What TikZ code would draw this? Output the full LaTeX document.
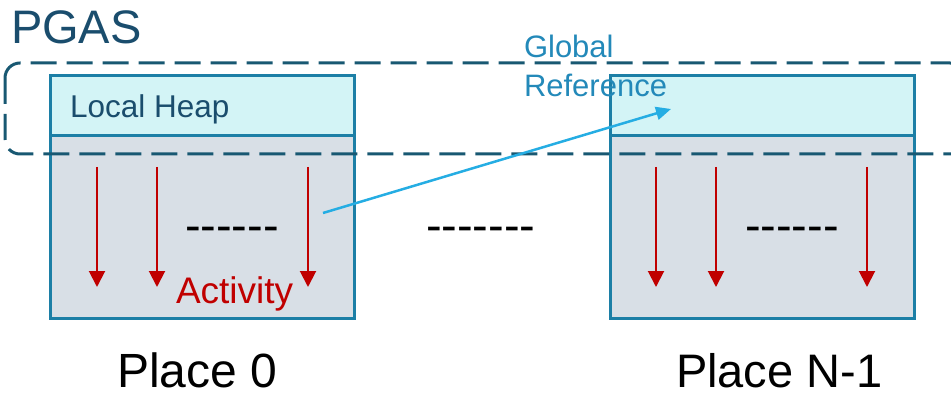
\documentclass[tikz,border=0pt]{standalone}
\usepackage{fontspec}
\setmainfont{Liberation Sans}
\usetikzlibrary{arrows.meta}
\definecolor{dashcol}{RGB}{24,88,114}
\definecolor{boxcol}{RGB}{28,127,166}
\definecolor{heapfill}{RGB}{211,244,246}
\definecolor{bodyfill}{RGB}{216,223,230}
\definecolor{titlecol}{RGB}{26,77,109}
\definecolor{grefcol}{RGB}{35,137,185}
\definecolor{linkcol}{RGB}{37,173,227}
\definecolor{actred}{RGB}{192,0,0}
\newcommand\hy{-\kern0pt}
\tikzset{
  heapbox/.style={draw=boxcol, line width=3pt, fill=heapfill, inner sep=0pt, outer sep=0pt, minimum width=304pt, minimum height=60pt},
  bodybox/.style={draw=boxcol, line width=3pt, fill=bodyfill, inner sep=0pt, outer sep=0pt, minimum width=304pt, minimum height=182pt},
  pgasline/.style={draw=dashcol, line width=3pt, dash pattern=on 26pt off 10pt, rounded corners=15pt},
  actarrow/.style={draw=actred, line width=2pt, -{Triangle[length=16pt,width=16pt]}},
  linkarrow/.style={draw=linkcol, line width=2.5pt, -{Triangle[length=15pt,width=13pt]}},
  txt/.style={inner sep=0pt, outer sep=0pt, anchor=base west},
}
\begin{document}
\begin{tikzpicture}[x=1pt,y=-1pt]
\useasboundingbox (0,0) rectangle (951,393);
\clip (0,0) rectangle (951,393);
% boxes
\node[bodybox] (body0) at (202,227) {};
\node[heapbox] (heap0) at (202,106) {};
\node[bodybox] (body1) at (762,227) {};
\node[heapbox] (heap1) at (762,106) {};
% PGAS region
\draw[pgasline] (5,63) rectangle (965,154);
% texts
\node[txt, text=titlecol, font=\fontsize{47}{52}\selectfont] (pgas) at (11,44) {PGAS};
\node[txt, text=titlecol, font=\fontsize{31.5}{36}\selectfont] (lheap) at (70,118) {Local Heap};
\node[txt, text=grefcol, font=\fontsize{31}{36}\selectfont] (gref) at (524,58) {Global};
\node[txt, text=grefcol, font=\fontsize{31}{36}\selectfont] (gref2) at (524,97) {Reference};
\node[txt, text=actred, font=\fontsize{37}{42}\selectfont] (act) at (176,303) {Activity};
\node[txt, font=\fontsize{47}{50}\selectfont] (dots0) at (185,241) {\hy\hy\hy\hy\hy\hy};
\node[txt, font=\fontsize{47}{50}\selectfont] (dotsm) at (426,241) {\hy\hy\hy\hy\hy\hy\hy};
\node[txt, font=\fontsize{47}{50}\selectfont] (dots1) at (745,241) {\hy\hy\hy\hy\hy\hy};
\node[txt, text depth=0pt, font=\fontsize{48}{54}\selectfont] (place0) at (117,387) {Place 0};
\node[txt, text depth=0pt, font=\fontsize{47}{54}\selectfont] (place1) at (676,387) {Place N-1};
% activity arrows
\foreach \i/\x in {a/97,b/157,c/308,d/656,e/716,f/867}{
  \coordinate (s\i) at (\x,167);
  \coordinate (t\i) at (\x,287);
  \draw[actarrow] (s\i) -- (t\i);
}
% global reference
\coordinate (gsrc) at (323,213);
\coordinate (gdst) at (671,109);
\draw[linkarrow] (gsrc) -- (gdst);
\end{tikzpicture}
\end{document}
